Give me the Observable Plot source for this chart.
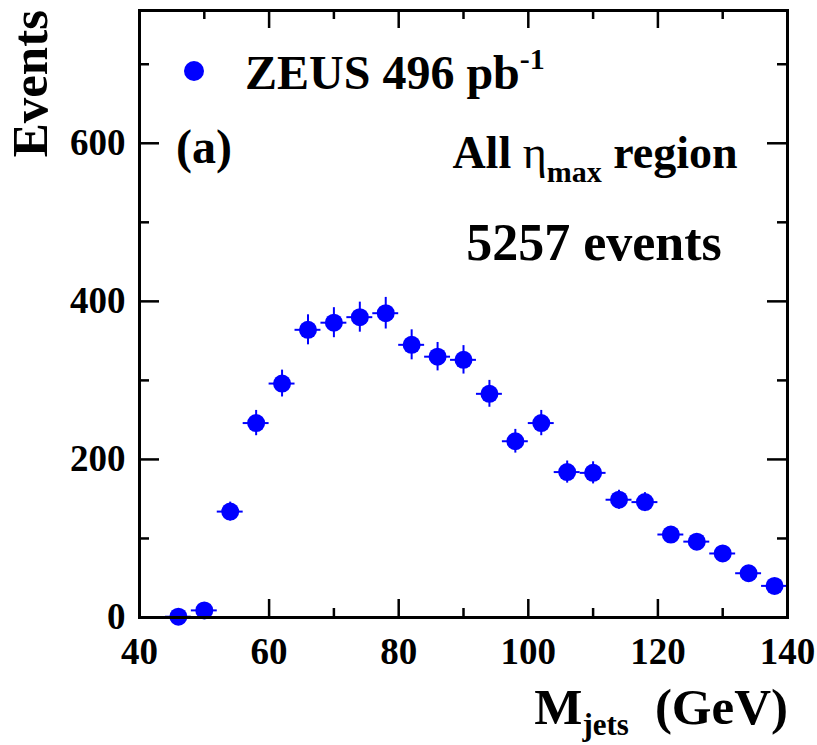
<!DOCTYPE html>
<html>
<head>
<meta charset="utf-8">
<script src="https://cdn.jsdelivr.net/npm/d3@7"></script>
<script src="https://cdn.jsdelivr.net/npm/@observablehq/plot@0.6"></script>
<style>
  body { margin: 0; background: #fff; }
</style>
</head>
<body>
<div id="chart"></div>
<script>
// Bin centres (GeV), event counts and statistical errors
const massCentres = [46, 50, 54, 58, 62, 66, 70, 74, 78, 82, 86, 90, 94, 98, 102, 106, 110, 114, 118, 122, 126, 130, 134, 138];
const eventCounts = [1, 9, 134, 246, 296, 364, 373, 380, 385, 345, 330, 326, 283, 223, 246, 184, 183, 149, 146, 105, 96, 81, 56, 40];
const countErrors = [1, 3, 12, 16, 17, 19, 19, 19, 20, 19, 18, 18, 17, 15, 16, 14, 14, 12, 12, 10, 10, 9, 7, 6];
const binHalfWidth = 2;

const xMajorTicks = [40, 60, 80, 100, 120, 140];
const xMinorTicks = [50, 70, 90, 110, 130];
const yMajorTicks = [0, 200, 400, 600];
const yMinorTicks = [100, 300, 500, 700];

const data = massCentres.map((m, i) => ({x: m, y: eventCounts[i], e: countErrors[i]}));

const W = 817, H = 745;
const mL = 139, mR = 30, mT = 10, mB = 128;
const fw = W - mL - mR, fh = H - mT - mB;
const blue = "#0000ff";
const serif = "'Liberation Serif', 'Times New Roman', serif";

const plot = Plot.plot({
  width: W,
  height: H,
  marginLeft: mL,
  marginRight: mR,
  marginTop: mT,
  marginBottom: mB,
  style: {fontFamily: serif, fontWeight: "bold", color: "#000", background: "#fff"},
  x: {domain: [40, 140]},
  y: {domain: [0, 768]},
  marks: [
    // inward ticks, bottom & top
    Plot.tickX(xMajorTicks, {x: d => d, insetTop: fh - 18, stroke: "#000", strokeWidth: 2.5}),
    Plot.tickX(xMinorTicks, {x: d => d, insetTop: fh - 9, stroke: "#000", strokeWidth: 2.5}),
    Plot.tickX(xMajorTicks, {x: d => d, insetBottom: fh - 18, stroke: "#000", strokeWidth: 2.5}),
    Plot.tickX(xMinorTicks, {x: d => d, insetBottom: fh - 9, stroke: "#000", strokeWidth: 2.5}),
    // inward ticks, left & right
    Plot.tickY(yMajorTicks, {y: d => d, insetRight: fw - 20, stroke: "#000", strokeWidth: 2.5}),
    Plot.tickY(yMinorTicks, {y: d => d, insetRight: fw - 10, stroke: "#000", strokeWidth: 2.5}),
    Plot.tickY(yMajorTicks, {y: d => d, insetLeft: fw - 20, stroke: "#000", strokeWidth: 2.5}),
    Plot.tickY(yMinorTicks, {y: d => d, insetLeft: fw - 10, stroke: "#000", strokeWidth: 2.5}),
    Plot.axisX({ticks: xMajorTicks, tickSize: 0, tickPadding: 20, fontSize: 37, tickFormat: d => String(d), label: null}),
    Plot.axisY({ticks: yMajorTicks, tickSize: 0, tickPadding: 14, fontSize: 37, tickFormat: d => String(d), label: null}),
    // error bars
    Plot.ruleY(data, {y: "y", x1: d => d.x - binHalfWidth, x2: d => d.x + binHalfWidth, stroke: blue, strokeWidth: 2}),
    Plot.ruleX(data, {x: "x", y1: d => d.y - d.e, y2: d => d.y + d.e, stroke: blue, strokeWidth: 2}),
    Plot.dot(data, {x: "x", y: "y", r: 9, fill: blue}),
    Plot.frame({stroke: "#000", strokeWidth: 3})
  ]
});

document.getElementById("chart").appendChild(plot);

const svg = d3.select(plot);
const ann = svg.append("g")
  .attr("font-family", serif)
  .attr("font-weight", "bold")
  .attr("text-anchor", "start")
  .attr("fill", "#000");

// y-axis title
ann.append("text")
  .attr("transform", "translate(47,10) rotate(-90)")
  .attr("text-anchor", "end")
  .attr("font-size", 51)
  .text("Events");

// x-axis title
const xt = ann.append("text")
  .attr("x", 788).attr("y", 724)
  .attr("text-anchor", "end")
  .attr("font-size", 51);
xt.append("tspan").text("M");
xt.append("tspan").attr("font-size", 31).attr("dy", 11).text("jets");
xt.append("tspan").attr("dy", -11).attr("dx", 26).text("(GeV)");

// legend
ann.append("circle").attr("cx", 194).attr("cy", 71).attr("r", 10).attr("fill", blue);
const lg = ann.append("text").attr("x", 245).attr("y", 89).attr("font-size", 48);
lg.append("tspan").text("ZEUS 496 pb");
lg.append("tspan").attr("font-size", 30).attr("dy", -20).text("-1");

// panel label
ann.append("text").attr("x", 176).attr("y", 163).attr("font-size", 48).text("(a)");

// region label
const rg = ann.append("text").attr("x", 595).attr("y", 168).attr("text-anchor", "middle").attr("font-size", 46);
rg.append("tspan").text("All ");
rg.append("tspan").attr("font-weight", "normal").text("η");
rg.append("tspan").attr("font-size", 30).attr("dy", 14).text("max");
rg.append("tspan").attr("dy", -14).text(" region");

ann.append("text").attr("x", 594).attr("y", 260).attr("text-anchor", "middle").attr("font-size", 52).text("5257 events");
</script>
</body>
</html>
